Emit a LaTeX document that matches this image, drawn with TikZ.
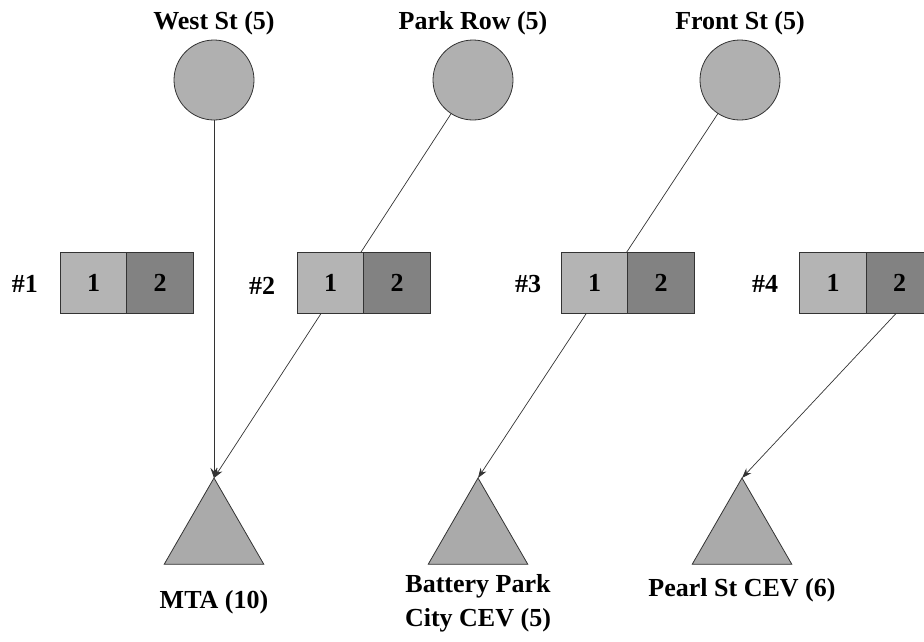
\documentclass[tikz,border=0pt]{standalone}
\usepackage{fontspec}
\setmainfont{Liberation Serif}
\usetikzlibrary{shapes.geometric,arrows.meta}
\definecolor{edgec}{HTML}{333333}
\definecolor{circfill}{HTML}{B0B0B0}
\definecolor{lightcell}{HTML}{B4B4B4}
\definecolor{darkcell}{HTML}{828282}
\definecolor{trifill}{HTML}{AAAAAA}
\begin{document}
\begin{tikzpicture}[x=1pt,y=-1pt,
  lbl/.style={font=\fontsize{26}{34}\selectfont\bfseries, inner sep=0, align=center},
  src/.style={circle, draw=edgec, fill=circfill, minimum size=80, inner sep=0, outer sep=0, line width=0.8pt},
  sink/.style={regular polygon, regular polygon sides=3, draw=edgec, fill=trifill, minimum size=115, inner sep=0, outer sep=0, line width=0.8pt},
  cellA/.style={rectangle, draw=edgec, fill=lightcell, minimum width=66.5, minimum height=61, inner sep=0, outer sep=0, line width=0.8pt, font=\fontsize{26}{30}\selectfont\bfseries},
  cellB/.style={cellA, fill=darkcell},
  conn/.style={draw=edgec, line width=0.7pt, -{Stealth[length=10pt,width=7pt]}}]
\useasboundingbox (0,0) rectangle (924,641);
% sources
\node[lbl] (wsl) at (214,23) {West St (5)};
\node[src] (ws) at (214,80) {};
\node[lbl] (prl) at (473,23) {Park Row (5)};
\node[src] (pr) at (473,80) {};
\node[lbl] (fsl) at (740,23) {Front St (5)};
\node[src] (fs) at (740,80) {};
% sinks
\node[sink] (mta) at (214,535.5) {};
\node[lbl] (mtal) at (214,602) {MTA (10)};
\node[sink] (bpc) at (478,535.5) {};
\node[lbl] (bpcl) at (478,603) {Battery Park\\City CEV (5)};
\node[sink] (pearl) at (742,535.5) {};
\node[lbl] (pearll) at (742,590) {Pearl St CEV (6)};
% connectors
\coordinate (p4) at (903,306);
\draw[conn] (ws) -- (mta.corner 1);
\draw[conn] (pr) -- (mta.corner 1);
\draw[conn] (fs) -- (bpc.corner 1);
\draw[conn] (p4) -- (pearl.corner 1);
% boxes
\node[lbl] (h1) at (25,284) {\#1};
\node[cellA] (b1a) at (93.5,282.5) {1};
\node[cellB] (b1b) at (160,282.5) {2};
\node[lbl] (h2) at (262,286) {\#2};
\node[cellA] (b2a) at (330.5,282.5) {1};
\node[cellB] (b2b) at (397,282.5) {2};
\node[lbl] (h3) at (528,284) {\#3};
\node[cellA] (b3a) at (594.5,282.5) {1};
\node[cellB] (b3b) at (661,282.5) {2};
\node[lbl] (h4) at (765,284) {\#4};
\node[cellA] (b4a) at (833,282.5) {1};
\node[cellB] (b4b) at (899.5,282.5) {2};
\end{tikzpicture}
\end{document}
